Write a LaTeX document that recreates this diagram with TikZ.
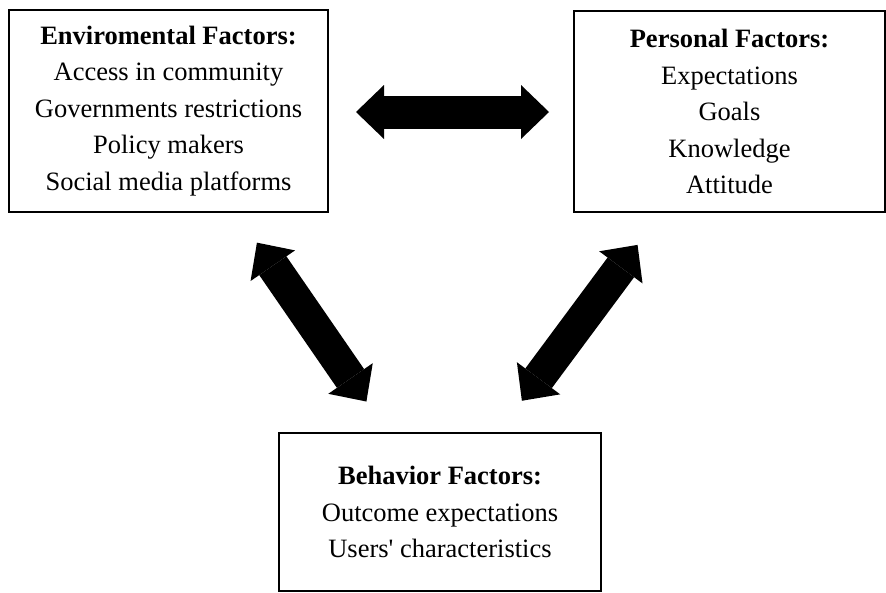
\documentclass[tikz,border=0pt]{standalone}
\usepackage{fontspec}
\setmainfont{Liberation Serif}
\usetikzlibrary{arrows.meta}
\tikzset{
  factorbox/.style={draw, line width=2pt, align=center, inner sep=0pt,
    font=\fontsize{26.5}{36.5}\selectfont},
  fattip/.style={Triangle[length=28pt, width=54pt, line width=0pt]},
  fatarrow/.style={line width=33pt, {Triangle[length=28pt, width=54pt, line width=0pt]}-{Triangle[length=28pt, width=54pt, line width=0pt]}}
}
\begin{document}
\begin{tikzpicture}[x=1pt, y=-1pt]
\useasboundingbox (0,0) rectangle (886,592);
\node [factorbox, minimum width=319pt, minimum height=202pt] (env) at (168.5,111)
  {\textbf{Enviromental Factors:}\\Access in community\\Governments restrictions\\Policy makers\\Social media platforms};
\node [factorbox, minimum width=311pt, minimum height=201pt] (pers) at (729.5,111.5)
  {\textbf{Personal Factors:}\\Expectations\\Goals\\Knowledge\\Attitude};
\node [factorbox, minimum width=322pt, minimum height=158pt] (beh) at (440,512)
  {\textbf{Behavior Factors:}\\Outcome expectations\\Users\textquotesingle{} characteristics};
\draw[fatarrow, shorten <=27pt, shorten >=24pt] ([yshift=-1pt]env.east) -- ([yshift=-0.5pt]pers.west);
\draw[fatarrow, shorten <=36pt, shorten >=37pt] ([xshift=68pt]env.south) -- ([xshift=-52.6pt]beh.north);
\draw[fatarrow, shorten <=39.7pt, shorten >=38.9pt] ([xshift=-68.3pt]pers.south) -- ([xshift=58.7pt]beh.north);
\end{tikzpicture}
\end{document}
